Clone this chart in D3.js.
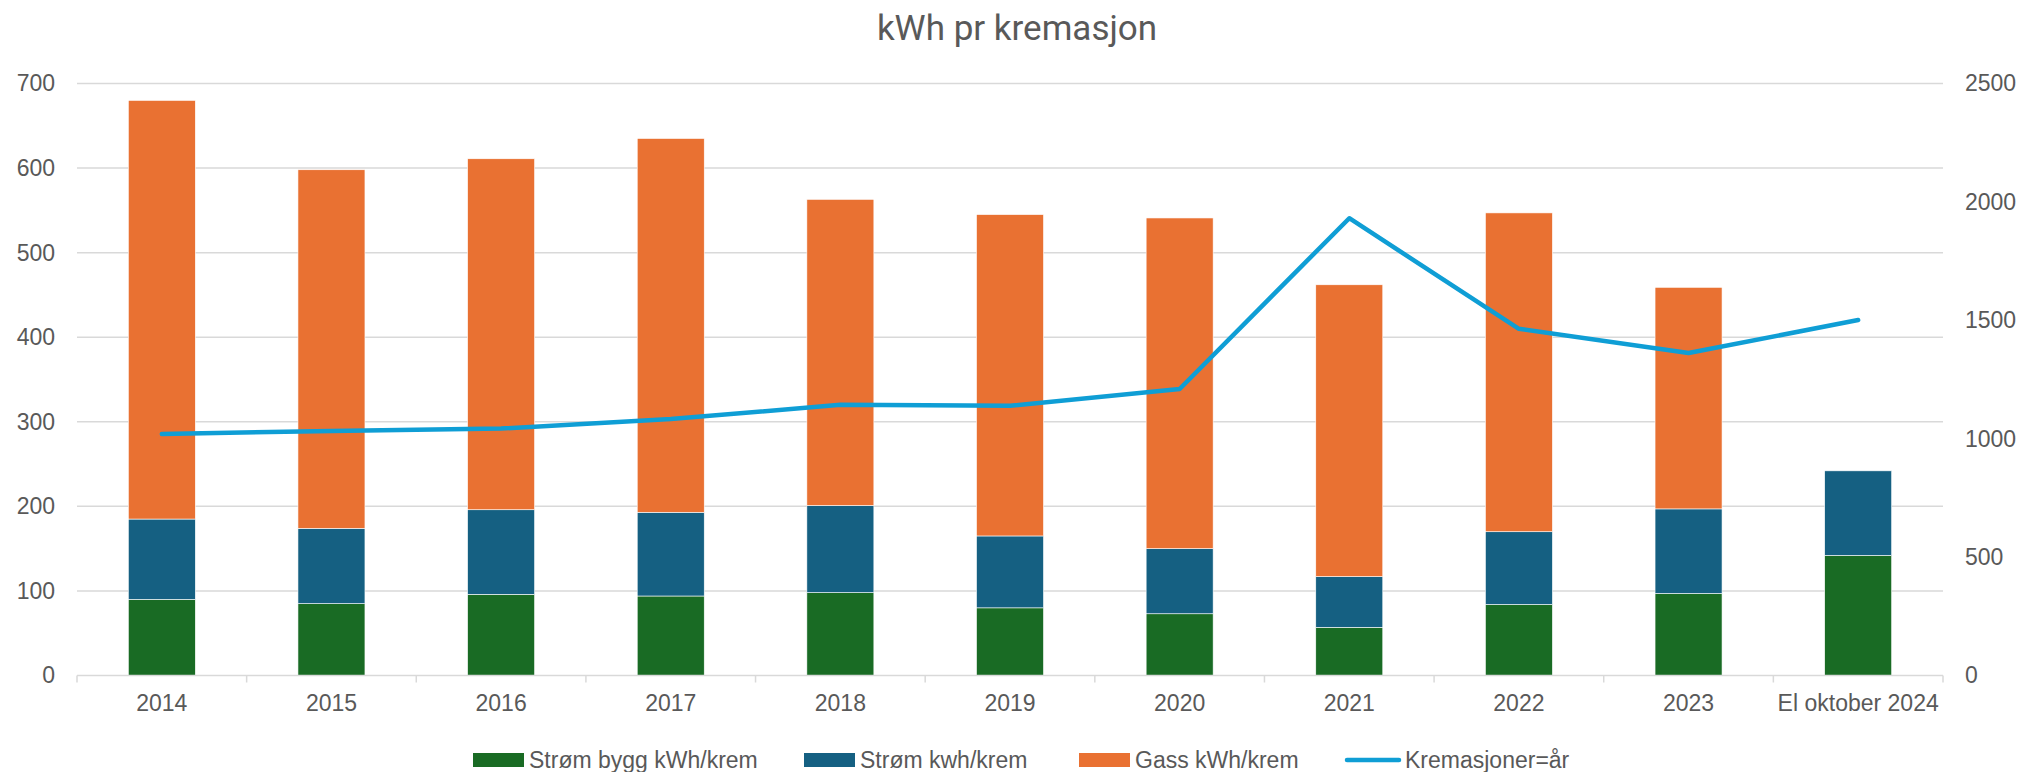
<!DOCTYPE html>
<html>
<head>
<meta charset="utf-8">
<script src="https://cdn.jsdelivr.net/npm/d3@7"></script>
<style>
  body { margin: 0; background: #fff; }
  svg text { fill: #595959; }
  .narrow { font-family: "Liberation Sans Narrow", "Arial Narrow", "Liberation Sans", sans-serif; }
</style>
</head>
<body>
<div id="chart"></div>
<script>
(function () {
  'use strict';

  var categories = ['2014', '2015', '2016', '2017', '2018', '2019', '2020', '2021', '2022', '2023', 'El oktober 2024'];
  var stromBygg = [90, 85, 96, 94, 98, 80, 73, 57, 84, 97, 142];
  var stromKwh = [95, 89, 100, 99, 103, 85, 77, 60, 86, 100, 100];
  var gass = [495, 424, 415, 442, 362, 380, 391, 345, 377, 262, 0];
  var kremasjoner = [1020, 1033, 1043, 1083, 1143, 1139, 1210, 1931, 1464, 1362, 1501];
  var leftTicks = [0, 100, 200, 300, 400, 500, 600, 700];
  var rightTicks = [0, 500, 1000, 1500, 2000, 2500];
  var seriesNames = ['Strøm bygg kWh/krem', 'Strøm kwh/krem', 'Gass kWh/krem', 'Kremasjoner=år'];

  var colors = ['#196B24', '#156082', '#E97132'],
      lineColor = '#0F9ED5',
      w = 2023,
      h = 772,
      m = {top: 83.5, right: 80, bottom: 96.5, left: 77};

  var svg = d3.select('#chart').append('svg')
    .attr('width', w)
    .attr('height', h);

  var x = d3.scaleBand()
      .domain(categories)
      .range([m.left, w - m.right])
      .paddingInner(0.605)
      .paddingOuter(0.3025),
    y = d3.scaleLinear()
      .domain([0, 700])
      .range([h - m.bottom, m.top]),
    y2 = d3.scaleLinear()
      .domain([0, 2500])
      .range([h - m.bottom, m.top]);

  // title
  svg.append('text')
    .attr('x', 1017)
    .attr('y', 40)
    .attr('text-anchor', 'middle')
    .style('font-family', 'Roboto, "Open Sans", sans-serif')
    .style('font-size', '35px')
    .text('kWh pr kremasjon');

  // gridlines
  svg.append('g')
    .selectAll('line')
    .data(leftTicks.slice(1))
    .enter()
    .append('line')
    .attr('x1', m.left)
    .attr('x2', w - m.right)
    .attr('y1', function (d) { return y(d); })
    .attr('y2', function (d) { return y(d); })
    .style('stroke', '#d9d9d9')
    .style('stroke-width', 1.5);

  // stacked bars
  var table = categories.map(function (c, i) {
    return {cat: c, a: stromBygg[i], b: stromKwh[i], c: gass[i]};
  });
  var stacked = d3.stack().keys(['a', 'b', 'c'])(table);

  svg.append('g')
    .selectAll('g')
    .data(stacked)
    .enter()
    .append('g')
    .style('fill', function (d, i) { return colors[i]; })
    .selectAll('rect')
    .data(function (d) { return d; })
    .enter()
    .append('rect')
    .attr('x', function (d) { return x(d.data.cat); })
    .attr('width', x.bandwidth())
    .attr('y', function (d) { return y(d[1]); })
    .attr('height', function (d) { return y(d[0]) - y(d[1]); })
    .style('stroke', '#ffffff')
    .style('stroke-width', 0.6);

  // bottom axis
  var xAxis = d3.axisBottom(x).tickSize(0).tickPadding(19);
  var gx = svg.append('g')
    .attr('transform', 'translate(0,' + (h - m.bottom) + ')')
    .call(xAxis);
  gx.select('.domain').remove();
  gx.selectAll('text')
    .attr('class', 'narrow')
    .style('font-size', '23px')
    .style('fill', '#595959');

  var step = x.step();
  var bounds = d3.range(categories.length + 1).map(function (i) {
    return m.left + i * step;
  });
  gx.append('line')
    .attr('x1', m.left)
    .attr('x2', w - m.right)
    .style('stroke', '#d9d9d9')
    .style('stroke-width', 1.5);
  gx.selectAll('.bnd')
    .data(bounds)
    .enter()
    .append('line')
    .attr('class', 'bnd')
    .attr('x1', function (d) { return d; })
    .attr('x2', function (d) { return d; })
    .attr('y1', 0)
    .attr('y2', 7)
    .style('stroke', '#d9d9d9')
    .style('stroke-width', 1.5);

  // left axis
  var gy = svg.append('g')
    .attr('transform', 'translate(' + (m.left - 22) + ',0)')
    .call(d3.axisLeft(y).tickValues(leftTicks).tickSize(0).tickPadding(0));
  gy.select('.domain').remove();
  gy.selectAll('text')
    .attr('class', 'narrow')
    .style('font-size', '23px')
    .style('fill', '#595959');

  // right axis
  var gy2 = svg.append('g')
    .attr('transform', 'translate(' + (w - m.right + 22) + ',0)')
    .call(d3.axisRight(y2).tickValues(rightTicks).tickFormat(d3.format('d')).tickSize(0).tickPadding(0));
  gy2.select('.domain').remove();
  gy2.selectAll('text')
    .attr('class', 'narrow')
    .style('font-size', '23px')
    .style('fill', '#595959');

  // line
  var line = d3.line()
    .x(function (d, i) { return x(categories[i]) + x.bandwidth() / 2; })
    .y(function (d) { return y2(d); });

  svg.append('path')
    .datum(kremasjoner)
    .attr('d', line)
    .style('fill', 'none')
    .style('stroke', lineColor)
    .style('stroke-width', 4.5)
    .style('stroke-linejoin', 'round')
    .style('stroke-linecap', 'round');

  // legend
  var legendX = [473, 804, 1079, 1345];
  var legend = svg.append('g');
  seriesNames.forEach(function (name, i) {
    var g = legend.append('g')
      .attr('transform', 'translate(' + legendX[i] + ',760)');
    if (i < 3) {
      g.append('rect')
        .attr('x', 0)
        .attr('y', -7)
        .attr('width', 51)
        .attr('height', 14)
        .style('fill', colors[i]);
    } else {
      g.append('line')
        .attr('x1', 2)
        .attr('x2', 54)
        .attr('y1', 0)
        .attr('y2', 0)
        .style('stroke', lineColor)
        .style('stroke-width', 4.5)
        .style('stroke-linecap', 'round');
    }
    g.append('text')
      .attr('class', 'narrow')
      .attr('x', i < 3 ? 56 : 60)
      .attr('y', 0)
      .attr('dy', '0.35em')
      .style('font-size', '23px')
      .text(name);
  });
}());
</script>
</body>
</html>
